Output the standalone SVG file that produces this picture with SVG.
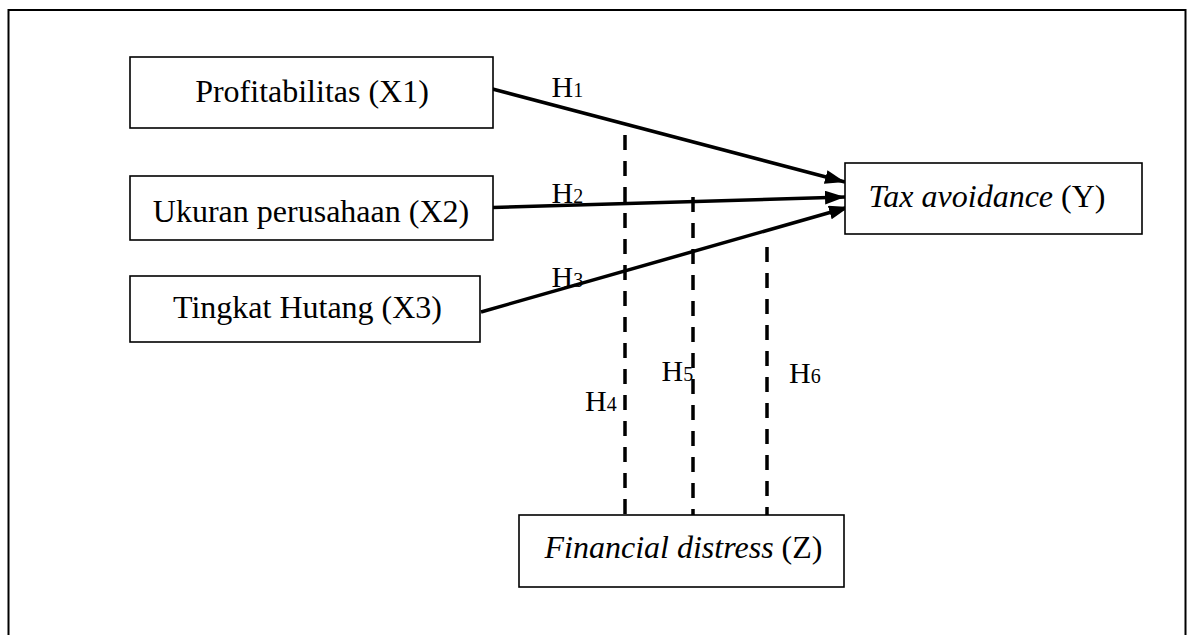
<svg xmlns="http://www.w3.org/2000/svg" width="1187" height="635" viewBox="0 0 1187 635">
<defs>
<style>
.box{fill:#fff;stroke:#000;stroke-width:1.6}
.t{font-family:"Liberation Serif","Times New Roman",serif;font-size:32px;fill:#000}
.h{font-family:"Liberation Serif","Times New Roman",serif;font-size:30px;fill:#000}
.sub{font-size:20px}
.arr{stroke:#000;stroke-width:3.5;fill:none}
.dash{stroke:#000;stroke-width:3.5;stroke-dasharray:15 11;fill:none}
</style>
<marker id="ah" markerUnits="userSpaceOnUse" markerWidth="24" markerHeight="18" refX="20" refY="7" orient="auto">
<path d="M0,0 L20,7 L0,14 Z" fill="#000"/>
</marker>
</defs>
<rect width="1187" height="635" fill="#fff"/>
<path d="M8.5,640 V10 H1185.5 V640" fill="none" stroke="#000" stroke-width="2"/>

<g id="connectors">
<line class="arr" x1="492.5" y1="89" x2="845" y2="182" marker-end="url(#ah)"/>
<line class="arr" x1="493" y1="207.5" x2="845" y2="197" marker-end="url(#ah)"/>
<line class="arr" x1="481" y1="312" x2="849" y2="207" marker-end="url(#ah)"/>
<line class="dash" x1="625" y1="135" x2="625" y2="515"/>
<line class="dash" x1="693" y1="197" x2="693" y2="515"/>
<line class="dash" x1="767" y1="247" x2="767" y2="515"/>
</g>

<g id="x1">
<rect class="box" x="130" y="57" width="363" height="71"/>
<text class="t" x="312" y="101.5" text-anchor="middle">Profitabilitas (X1)</text>
</g>
<g id="x2">
<rect class="box" x="130" y="176" width="363" height="64"/>
<text class="t" x="311" y="221.5" text-anchor="middle">Ukuran perusahaan (X2)</text>
</g>
<g id="x3">
<rect class="box" x="130" y="276" width="350" height="66"/>
<text class="t" x="307.5" y="318" text-anchor="middle">Tingkat Hutang (X3)</text>
</g>
<g id="y">
<rect class="box" x="845" y="163" width="297" height="71"/>
<text class="t" x="987" y="206.5" text-anchor="middle"><tspan font-style="italic">Tax avoidance</tspan> (Y)</text>
</g>
<g id="z">
<rect class="box" x="519" y="515" width="325" height="72"/>
<text class="t" x="683.5" y="558" text-anchor="middle"><tspan font-style="italic">Financial distress</tspan> (Z)</text>
</g>

<g id="labels">
<text class="h" x="551.5" y="97">H<tspan class="sub">1</tspan></text>
<text class="h" x="551.5" y="203">H<tspan class="sub">2</tspan></text>
<text class="h" x="551.5" y="286.5">H<tspan class="sub">3</tspan></text>
<text class="h" x="585" y="410.5">H<tspan class="sub">4</tspan></text>
<text class="h" x="661.5" y="381">H<tspan class="sub">5</tspan></text>
<text class="h" x="789" y="383">H<tspan class="sub">6</tspan></text>
</g>
</svg>
